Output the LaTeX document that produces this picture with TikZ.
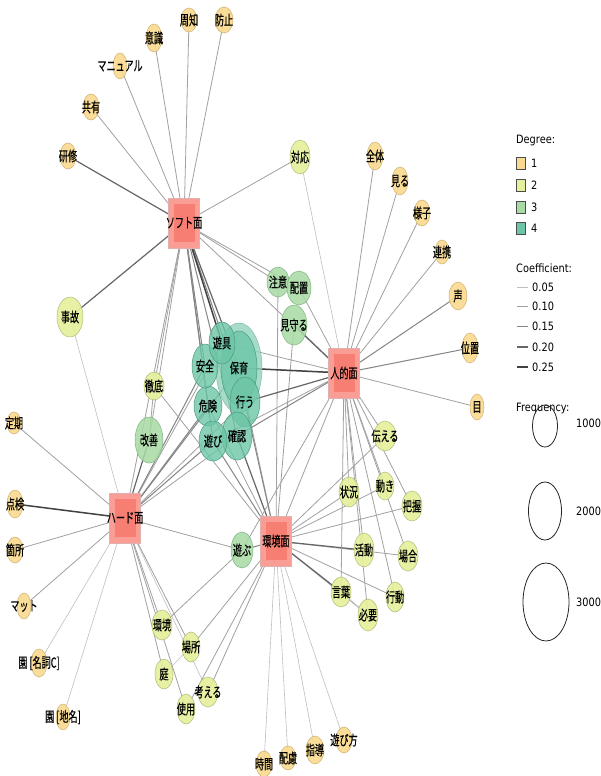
\documentclass[tikz,border=0pt]{standalone}
\usepackage{fontspec}
\usetikzlibrary{shapes.geometric}
\newfontfamily\jpfont[FakeStretch=0.65,FakeBold=0.3]{Noto Sans CJK JP}
\newfontfamily\lgfont[FakeStretch=0.85]{DejaVu Sans}
\definecolor{cA}{HTML}{F9DA8F}\definecolor{cAb}{HTML}{CFB070}
\definecolor{cB}{HTML}{E6F09A}\definecolor{cBb}{HTML}{AEBB78}
\definecolor{cC}{HTML}{A8DBA4}\definecolor{cCb}{HTML}{80B482}
\definecolor{cD}{HTML}{6CC6A6}\definecolor{cDb}{HTML}{4E9A82}
\definecolor{hubO}{HTML}{F99D95}\definecolor{hubI}{HTML}{F67E73}
\tikzset{
 e1/.style={draw=black!25,line width=0.6pt},
 e2/.style={draw=black!37,line width=0.8pt},
 e3/.style={draw=black!48,line width=1.0pt},
 e4/.style={draw=black!60,line width=1.2pt},
 e5/.style={draw=black!74,line width=1.5pt},
 lbl/.style={font=\jpfont\fontsize{14}{14}\selectfont,inner sep=0pt},
 lg/.style={font=\lgfont\fontsize{11.5}{11.5}\selectfont,inner sep=0pt,anchor=west},
 nA/.style={ellipse,draw=cAb,fill=cA,line width=0.5pt,inner sep=0pt,fill opacity=0.9},
 nB/.style={ellipse,draw=cBb,fill=cB,line width=0.5pt,inner sep=0pt,fill opacity=0.9},
 nC/.style={ellipse,draw=cCb,fill=cC,line width=0.5pt,inner sep=0pt,fill opacity=0.85},
 nD/.style={ellipse,draw=cDb,fill=cD,line width=0.5pt,inner sep=0pt,fill opacity=0.8},
 hubo/.style={rectangle,fill=hubO,draw=hubO!80!black!60,line width=0.4pt,minimum width=31pt,minimum height=50pt,inner sep=0pt},
 hubi/.style={rectangle,fill=hubI,minimum width=21pt,minimum height=38pt,inner sep=0pt},
 legc/.style={ellipse,draw=black!85,line width=0.8pt,inner sep=0pt},
 legs/.style={rectangle,draw=black!70,line width=0.5pt,minimum width=9pt,minimum height=12pt,inner sep=0pt}
}
\newcommand\wn[5]{\node[#1,minimum width=#3*2pt,minimum height=#4*2pt] (#2-c) at (#2) {};\node[lbl] (#2-t) at (#2) {#5};}
\newcommand\hubnode[2]{\node[hubo] (#1-c) at (#1) {};\node[hubi] (#1-i) at (#1) {};\node[lbl] (#1-t) at (#1) {#2};}
\begin{document}
\begin{tikzpicture}[x=1pt,y=-1pt]
\fill[white] (0,0) rectangle (600,776);
\useasboundingbox (0,0) rectangle (600,776);
% hubs
\coordinate (S) at (184,223); \coordinate (P) at (344,373);
\coordinate (H) at (125,518); \coordinate (E) at (276,541);
% degree 1
\coordinate (kensyu) at (68,156); \coordinate (kyoyu) at (91,107);
\coordinate (manual) at (120,66); \coordinate (ishiki) at (154,38);
\coordinate (shuchi) at (189,20); \coordinate (boshi) at (224,20);
\coordinate (zentai) at (375,156); \coordinate (miru) at (400,181);
\coordinate (yosu) at (422,213); \coordinate (renkei) at (442,252);
\coordinate (koe) at (458,296); \coordinate (ichi) at (470,348);
\coordinate (me) at (477,407); \coordinate (teiki) at (14,423);
\coordinate (tenken) at (15,504); \coordinate (kasho) at (15,550);
\coordinate (matto) at (24,606); \coordinate (enC) at (39,663);
\coordinate (enT) at (63,717); \coordinate (jikan) at (264,764);
\coordinate (hairyo) at (288,758); \coordinate (shido) at (315,750);
\coordinate (asobikata) at (344,740);
% degree 2
\coordinate (taio) at (300,157); \coordinate (jiko) at (70,317);
\coordinate (tettei) at (154,386); \coordinate (tsutaeru) at (385,436);
\coordinate (jokyo) at (349,492); \coordinate (ugoki) at (385,486);
\coordinate (haaku) at (412,506); \coordinate (katsudo) at (364,550);
\coordinate (baai) at (408,556); \coordinate (kotoba) at (341,592);
\coordinate (kodo) at (395,597); \coordinate (hitsuyo) at (368,615);
\coordinate (kankyo) at (162,625); \coordinate (basho) at (191,647);
\coordinate (niwa) at (164,674); \coordinate (kangaeru) at (208,692);
\coordinate (shiyo) at (186,709);
% degree 3
\coordinate (chui) at (278,282); \coordinate (haichi) at (299,288);
\coordinate (mimamoru) at (294,325); \coordinate (kaizen) at (149,440);
\coordinate (asobu) at (242,550);
% degree 4
\coordinate (hoiku) at (239,368); \coordinate (yugu) at (222,343);
\coordinate (anzen) at (205,366); \coordinate (kiken) at (208,406);
\coordinate (okonau) at (245,402); \coordinate (asobi) at (213,441);
\coordinate (kakunin) at (237,436);
% ---------------- edges
\foreach \b in {kyoyu,manual,ishiki,shuchi,boshi,taio,chui,haichi,P,tettei,H,kaizen} \draw[e2] (S) -- (\b);
\foreach \b in {anzen,kiken,asobi,kakunin,okonau} \draw[e3] (S) -- (\b);
\draw[e4] (S) -- (kensyu); \draw[e4] (S) -- (jiko); \draw[e4] (S) -- (hoiku); \draw[e5] (S) -- (yugu);
\foreach \b in {teiki,kasho,matto,asobu,kankyo,basho,niwa,shiyo,kakunin,okonau,yugu} \draw[e2] (H) -- (\b);
\foreach \b in {enC,enT,jiko,kangaeru} \draw[e1] (H) -- (\b);
\foreach \b in {anzen,kiken,asobi,hoiku} \draw[e3] (H) -- (\b);
\draw[e5] (H) -- (tenken); \draw[e4] (H) -- (kaizen);
\foreach \b in {chui,mimamoru,P,tettei,kiken,hoiku,tsutaeru,jokyo,ugoki,haaku,baai,kodo,hitsuyo,basho,kangaeru,shiyo} \draw[e2] (E) -- (\b);
\foreach \b in {jikan,hairyo,shido,asobikata} \draw[e1] (E) -- (\b);
\foreach \b in {asobu,okonau,asobi} \draw[e3] (E) -- (\b);
\draw[e4] (E) -- (kakunin); \draw[e4] (E) -- (katsudo); \draw[e4] (E) -- (kotoba);
\foreach \b in {zentai,miru,yosu,renkei,me,haichi,anzen,yugu,asobi,asobu,tsutaeru,jokyo,ugoki,haaku,katsudo,baai,kodo,kotoba,hitsuyo} \draw[e2] (P) -- (\b);
\draw[e1] (P) -- (taio);
\foreach \b in {koe,ichi,kakunin} \draw[e3] (P) -- (\b);
\draw[e4] (P) -- (mimamoru); \draw[e4] (P) -- (okonau); \draw[e5] (P) -- (hoiku);
\draw[e2] (tettei) -- (kaizen); \draw[e1] (kotoba) -- (hitsuyo);
\draw[e2] (kankyo) -- (asobu); \draw[e1] (niwa) -- (basho);
% ---------------- nodes
\hubnode{S}{ソフト面}\hubnode{P}{人的面}\hubnode{H}{ハード面}\hubnode{E}{環境面}
\wn{nA}{kensyu}{8}{13}{研修}\wn{nA}{kyoyu}{8}{13}{共有}
\wn{nA}{manual}{7}{13}{マニュアル}\wn{nA}{ishiki}{8}{14}{意識}
\wn{nA}{shuchi}{8}{12}{周知}\wn{nA}{boshi}{9}{13}{防止}
\wn{nA}{zentai}{8}{14}{全体}\wn{nA}{miru}{8}{14}{見る}
\wn{nA}{yosu}{8}{13}{様子}\wn{nA}{renkei}{7}{12}{連携}
\wn{nA}{koe}{9}{14}{声}\wn{nA}{ichi}{8}{15}{位置}
\wn{nA}{me}{7}{13}{目}\wn{nA}{teiki}{7}{11}{定期}
\wn{nA}{tenken}{8}{14}{点検}\wn{nA}{kasho}{8}{13}{箇所}
\wn{nA}{matto}{7}{13}{マット}\wn{nA}{enC}{8}{14}{園 [名詞C]}
\wn{nA}{enT}{7}{13}{園 [地名]}\wn{nA}{jikan}{8}{13}{時間}
\wn{nA}{hairyo}{8}{12}{配慮}\wn{nA}{shido}{9}{14}{指導}
\wn{nA}{asobikata}{8}{13}{遊び方}
\wn{nB}{taio}{10}{17}{対応}\wn{nB}{jiko}{13}{20}{事故}
\wn{nB}{tettei}{10}{14}{徹底}\wn{nB}{tsutaeru}{11}{15}{伝える}
\wn{nB}{jokyo}{10}{15}{状況}\wn{nB}{ugoki}{9}{14}{動き}
\wn{nB}{haaku}{10}{15}{把握}\wn{nB}{katsudo}{10}{17}{活動}
\wn{nB}{baai}{10}{15}{場合}\wn{nB}{kotoba}{10}{15}{言葉}
\wn{nB}{kodo}{9}{15}{行動}\wn{nB}{hitsuyo}{10}{16}{必要}
\wn{nB}{kankyo}{10}{15}{環境}\wn{nB}{basho}{9}{15}{場所}
\wn{nB}{niwa}{9}{15}{庭}\wn{nB}{kangaeru}{10}{15}{考える}
\wn{nB}{shiyo}{9}{15}{使用}
\wn{nC}{chui}{11}{15}{注意}\wn{nC}{haichi}{12}{17}{配置}
\wn{nC}{mimamoru}{13}{20}{見守る}\wn{nC}{kaizen}{14}{23}{改善}
\wn{nC}{asobu}{11}{18}{遊ぶ}
\node[ellipse,fill=cD!75!white,fill opacity=0.8,draw=cDb!70,line width=0.5pt,minimum width=46pt,minimum height=90pt,inner sep=0pt] (hoiku-h) at (hoiku) {};
\wn{nD}{hoiku}{18}{37}{保育}
\wn{nD}{okonau}{15}{25}{行う}\wn{nD}{kakunin}{15}{24}{確認}
\wn{nD}{kiken}{14}{20}{危険}\wn{nD}{asobi}{14}{20}{遊び}
\wn{nD}{anzen}{13}{22}{安全}\wn{nD}{yugu}{13}{21}{遊具}
% ---------------- legend
\node[lg] (lgD) at (516,141) {Degree:};
\node[legs,fill=cA] (s1) at (521,163) {}; \node[lg] (t1) at (531,163) {1};
\node[legs,fill=cB] (s2) at (521,185) {}; \node[lg] (t2) at (531,185) {2};
\node[legs,fill=cC] (s3) at (521,207) {}; \node[lg] (t3) at (531,207) {3};
\node[legs,fill=cD] (s4) at (521,228) {}; \node[lg] (t4) at (531,228) {4};
\node[lg] (lgC) at (516,268) {Coefficient:};
\foreach \i/\yy/\t in {1/287/0.05,2/306/0.10,3/326/0.15,4/347/0.20,5/367/0.25}{
 \coordinate (la\i) at (517,\yy); \coordinate (lb\i) at (528,\yy);
 \draw[e\i] (la\i) -- (lb\i);
 \node[lg] (lt\i) at (532,\yy) {\t};}
\node[lg] (lgF) at (516,408) {Frequency:};
\node[legc,minimum width=25pt,minimum height=42pt] (f1) at (545,426) {}; \node[lg] (ft1) at (576,423) {1000};
\node[legc,minimum width=33pt,minimum height=58pt] (f2) at (545,511) {}; \node[lg] (ft2) at (576,511) {2000};
\node[legc,minimum width=46pt,minimum height=78pt] (f3) at (546,602) {}; \node[lg] (ft3) at (576,602) {3000};
\end{tikzpicture}
\end{document}
